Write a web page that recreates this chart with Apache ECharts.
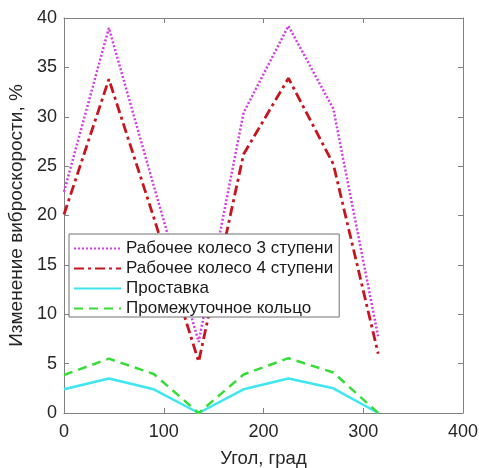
<!DOCTYPE html>
<html>
<head>
<meta charset="utf-8">
<script src="https://cdn.jsdelivr.net/npm/echarts@6/dist/echarts.min.js"></script>
<style>
html, body { margin: 0; padding: 0; background: #fff; }
#main { width: 479px; height: 468px; }
</style>
</head>
<body>
<div id="main"></div>
<script>
// угол, град
var angles = [0, 45, 90, 135, 180, 225, 270, 315];
var wheel3 = [22.4, 39.0, 23.0, 7.2, 30.4, 39.2, 30.8, 7.7];
var wheel4 = [20.1, 33.8, 19.8, 5.2, 26.2, 33.9, 25.2, 6.0];
var spacer = [2.4, 3.5, 2.4, 0, 2.4, 3.5, 2.5, 0];
var ring = [3.85, 5.5, 3.95, 0, 3.9, 5.55, 4.1, 0];

var names = ['Рабочее колесо 3 ступени', 'Рабочее колесо 4 ступени', 'Проставка', 'Промежуточное кольцо'];

function pairs(vals) {
	return angles.map(function (a, i) { return [a, vals[i]]; });
}

window.onload = () => {
	var myChart = echarts.init(document.getElementById('main'));
	var font = 'Arial, "Liberation Sans", sans-serif';
	var axisGray = '#808080';

	var boxAxis = {
		axisLine: { show: true, onZero: false, lineStyle: { color: axisGray, width: 1 } },
		axisTick: { show: true, inside: true, length: 5, lineStyle: { color: axisGray } },
		splitLine: { show: false }
	};

	var option = {
		animation: false,
		backgroundColor: '#fff',
		grid: { left: 64, right: 16, top: 18, bottom: 55, outerBoundsMode: 'none' },
		legend: {
			orient: 'vertical',
			left: 69,
			top: 234,
			padding: [6, 6, 0, 4],
			itemGap: 3,
			itemWidth: 47,
			itemHeight: 14,
			borderColor: '#707070',
			borderWidth: 1,
			backgroundColor: '#fff',
			itemStyle: { opacity: 0 },
			textStyle: { fontFamily: font, fontSize: 17, color: '#1a1a1a' },
			data: names
		},
		xAxis: [
			Object.assign({
				type: 'value', min: 0, max: 400, interval: 100,
				name: 'Угол, град', nameLocation: 'middle', nameGap: 36,
				nameTextStyle: { fontFamily: font, fontSize: 18.5, color: '#262626' },
				axisLabel: { fontFamily: font, fontSize: 18, color: '#262626', margin: 10 }
			}, boxAxis),
			Object.assign({
				type: 'value', min: 0, max: 400, interval: 100, position: 'top',
				axisLabel: { show: false }
			}, boxAxis)
		],
		yAxis: [
			Object.assign({
				type: 'value', min: 0, max: 40, interval: 5,
				name: 'Изменение виброскорости, %', nameLocation: 'middle', nameGap: 38,
				nameTextStyle: { fontFamily: font, fontSize: 19, color: '#262626' },
				axisLabel: { fontFamily: font, fontSize: 18, color: '#262626', margin: 7 }
			}, boxAxis),
			Object.assign({
				type: 'value', min: 0, max: 40, interval: 5, position: 'right',
				axisLabel: { show: false }
			}, boxAxis)
		],
		series: [
			{
				name: names[0], type: 'line', data: pairs(wheel3), showSymbol: false, symbol: 'none',
				itemStyle: { color: '#d43ce6' },
				lineStyle: { color: '#d43ce6', width: 2.5, type: [2, 2] }
			},
			{
				name: names[1], type: 'line', data: pairs(wheel4), showSymbol: false, symbol: 'none',
				itemStyle: { color: '#c8141e' },
				lineStyle: { color: '#c8141e', width: 2.8, type: [10, 4, 3, 4] }
			},
			{
				name: names[2], type: 'line', data: pairs(spacer), showSymbol: false, symbol: 'none',
				itemStyle: { color: '#3ee6f0' },
				lineStyle: { color: '#3ee6f0', width: 2.5, type: 'solid' }
			},
			{
				name: names[3], type: 'line', data: pairs(ring), showSymbol: false, symbol: 'none',
				itemStyle: { color: '#38dc38' },
				lineStyle: { color: '#38dc38', width: 2.5, type: [9, 6] }
			}
		]
	};

	myChart.setOption(option);
};
</script>
</body>
</html>
